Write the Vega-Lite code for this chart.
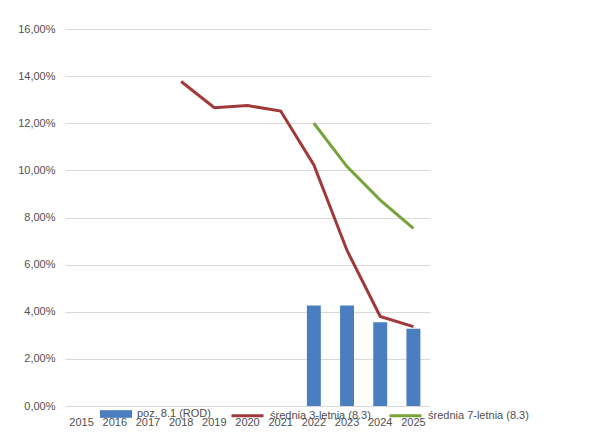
{
  "$schema": "https://vega.github.io/schema/vega-lite/v6.json",
  "width": 365,
  "height": 377,
  "autosize": "none",
  "padding": {"left": 65, "top": 29, "right": 174, "bottom": 30},
  "background": "white",
  "data": {
    "values": [
      {"year": "2015", "rod": null, "avg3": null, "avg7": null},
      {"year": "2016", "rod": null, "avg3": null, "avg7": null},
      {"year": "2017", "rod": null, "avg3": null, "avg7": null},
      {"year": "2018", "rod": null, "avg3": 0.1377, "avg7": null},
      {"year": "2019", "rod": null, "avg3": 0.1266, "avg7": null},
      {"year": "2020", "rod": null, "avg3": 0.1275, "avg7": null},
      {"year": "2021", "rod": null, "avg3": 0.1252, "avg7": null},
      {"year": "2022", "rod": 0.0426, "avg3": 0.1023, "avg7": 0.12},
      {"year": "2023", "rod": 0.0426, "avg3": 0.066, "avg7": 0.1016},
      {"year": "2024", "rod": 0.0355, "avg3": 0.038, "avg7": 0.0874},
      {"year": "2025", "rod": 0.0328, "avg3": 0.0337, "avg7": 0.0754}
    ]
  },
  "encoding": {
    "x": {
      "field": "year",
      "type": "ordinal",
      "scale": {
        "domain": ["2015","2016","2017","2018","2019","2020","2021","2022","2023","2024","2025"],
        "paddingInner": 0.58,
        "paddingOuter": 0.29
      },
      "axis": {
        "title": null,
        "labelAngle": 0,
        "ticks": false,
        "domain": false,
        "grid": false,
        "labelPadding": 10,
        "labelFontSize": 11,
        "labelFont": "Liberation Sans",
        "labelColor": "#505050"
      }
    }
  },
  "layer": [
    {
      "mark": {"type": "bar"},
      "encoding": {
        "y": {
          "field": "rod",
          "type": "quantitative",
          "scale": {"domain": [0, 0.16], "nice": false},
          "axis": {
            "title": null,
            "values": [0, 0.02, 0.04, 0.06, 0.08, 0.1, 0.12, 0.14, 0.16],
            "labelExpr": "replace(format(datum.value, '.2%'), '.', ',')",
            "ticks": false,
            "domain": false,
            "grid": true,
            "gridColor": "#D9D9D9",
            "gridWidth": 1,
            "labelPadding": 10,
            "labelFontSize": 11,
            "labelFont": "Liberation Sans",
            "labelColor": "#505050"
          }
        },
        "fill": {
          "datum": "poz. 8.1 (ROD)",
          "scale": {"domain": ["poz. 8.1 (ROD)"], "range": ["#4A7EC1"]},
          "legend": {
            "title": null,
            "orient": "none",
            "legendX": 35,
            "legendY": 369,
            "symbolType": "M-1,-0.24H1V0.24H-1Z",
            "symbolSize": 1024,
            "symbolStrokeWidth": 0,
            "labelFontSize": 11,
            "labelFont": "Liberation Sans",
            "labelColor": "#505050",
            "labelOffset": 5
          }
        }
      }
    },
    {
      "mark": {"type": "line", "strokeWidth": 3},
      "encoding": {
        "y": {"field": "avg3", "type": "quantitative"},
        "stroke": {
          "datum": "średnia 3-letnia (8.3)",
          "scale": {
            "domain": ["średnia 3-letnia (8.3)", "średnia 7-letnia (8.3)"],
            "range": ["#A0393A", "#77A33A"]
          },
          "legend": {
            "title": null,
            "orient": "none",
            "direction": "horizontal",
            "legendX": 165,
            "legendY": 369,
            "symbolType": "stroke",
            "symbolSize": 1024,
            "symbolStrokeWidth": 3,
            "columnPadding": 12,
            "labelFontSize": 11,
            "labelFont": "Liberation Sans",
            "labelColor": "#505050",
            "labelOffset": 5
          }
        }
      }
    },
    {
      "mark": {"type": "line", "strokeWidth": 3},
      "encoding": {
        "y": {"field": "avg7", "type": "quantitative"},
        "stroke": {"datum": "średnia 7-letnia (8.3)"}
      }
    }
  ],
  "config": {"view": {"stroke": null}}
}
